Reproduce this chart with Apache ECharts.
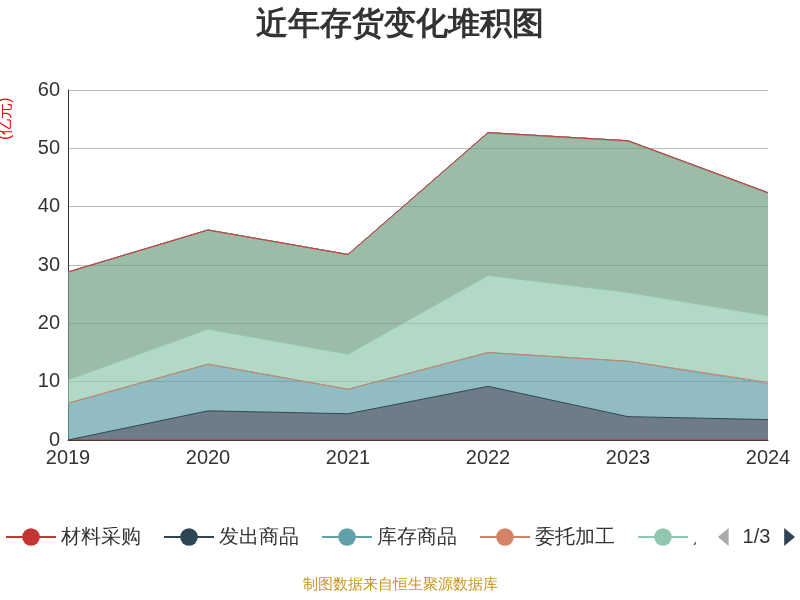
<!DOCTYPE html>
<html><head><meta charset="utf-8">
<script src="https://cdn.jsdelivr.net/npm/echarts@6/dist/echarts.min.js"></script>
<style>html,body{margin:0;padding:0}#c{width:800px;height:600px}</style>
</head><body><div id="c"></div>
<script>
const years = ['2019','2020','2021','2022','2023','2024'];
const names = ['材料采购','发出商品','库存商品','委托加工','原材料','在产品','周转材料','自制半成品','低值易耗品','包装物','在途物资','其他'];
const s0 = [0,0,0,0,0,0];
const s1 = [0,5,4.5,9.2,4,3.5];
const s2 = [6.3,8,4.2,5.8,9.5,6.2];
const s3 = [0,0,0,0,0,0.2];
const s4 = [4,6,6,13.2,11.8,11.4];
const s5 = [18.5,17,17.1,24.4,25.9,21];
const s6 = [0,0,0,0.1,0.1,0.1];
const s7 = [0,0,0,0,0,0];
const s8 = [0,0,0,0,0,0];
const s9 = [0,0,0,0,0,0];
const s10 = [0,0,0,0,0,0];
const s11 = [0,0,0,0,0,0];
const vals = [s0,s1,s2,s3,s4,s5,s6,s7,s8,s9,s10,s11];
const colors = ['#c23531','#2f4554','#61a0a8','#d48265','#91c7ae','#749f83','#ca8622','#bda29a','#6e7074','#546570','#c4ccd3','#c23531'];
const chart = echarts.init(document.getElementById('c'));
chart.setOption({
  color: colors,
  title:{text:'近年存货变化堆积图',left:'center',top:4,textStyle:{fontSize:32,fontWeight:'bold',color:'#333'}},
  legend:{type:'scroll',bottom:48,left:0,right:0,itemWidth:50,itemHeight:22,itemGap:22,textStyle:{fontSize:20,color:'#333'},
    pageIconSize:18,pageIconColor:'#2f4554',pageIconInactiveColor:'#aaa',pageTextStyle:{fontSize:20,color:'#333'}},
  grid:{left:68,right:32,top:90,bottom:160},
  xAxis:{type:'category',data:years,boundaryGap:false,axisLine:{lineStyle:{color:'#333'}},axisTick:{show:false},axisLabel:{fontSize:20,color:'#333'}},
  yAxis:{type:'value',min:0,max:60,interval:10,
    axisLine:{show:true,lineStyle:{color:'#333'}},axisLabel:{fontSize:20,color:'#333'},splitLine:{lineStyle:{color:'#bbb'}}},
  series: names.map((n,i)=>({name:n,type:'line',stack:'a',data:vals[i],symbol:'circle',showSymbol:false,symbolSize:20,
    lineStyle:{width:1},areaStyle:{opacity:0.7}})),
  graphic:[
    {type:'text',left:'center',bottom:8,style:{text:'制图数据来自恒生聚源数据库',fill:'#c8961e',fontSize:15}},
    {type:'text',x:-2,y:140,rotation:Math.PI/2,style:{text:'(亿元)',fill:'#e00',fontSize:16}}
  ]
});
</script></body></html>
